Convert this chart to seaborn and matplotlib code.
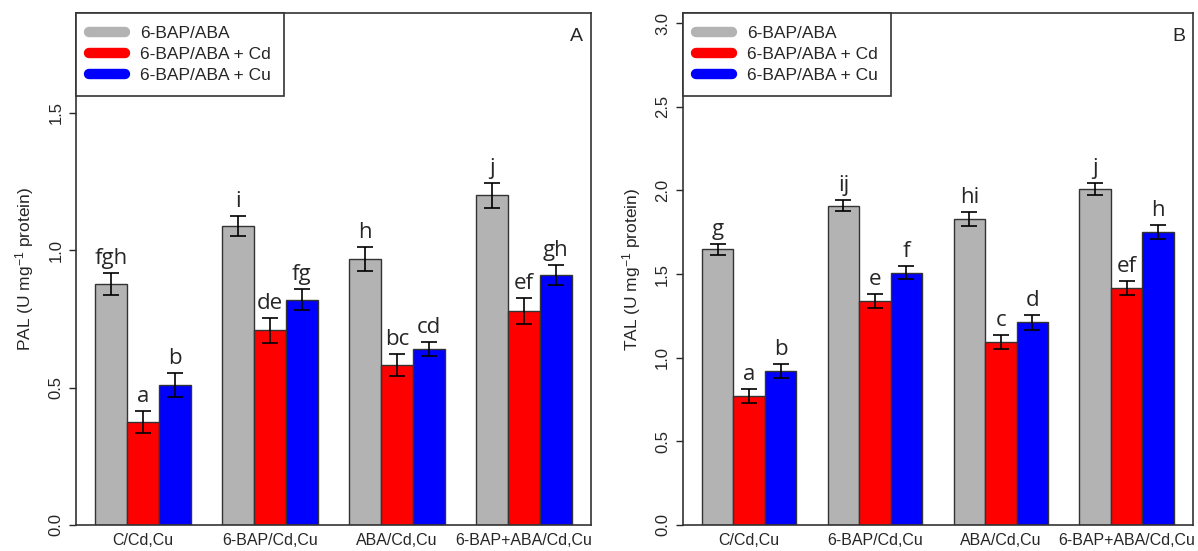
import pandas as pd
import seaborn as sns
import matplotlib.pyplot as plt
from matplotlib.lines import Line2D

# groups on the x axis and the three treatments
groups = ['C/Cd,Cu', '6-BAP/Cd,Cu', 'ABA/Cd,Cu', '6-BAP+ABA/Cd,Cu']
treatments = ['6-BAP/ABA', '6-BAP/ABA + Cd', '6-BAP/ABA + Cu']
colors = ['#b3b3b3', '#ff0000', '#0000ff']

# panel A - PAL
pal_ctrl = [0.877, 1.088, 0.969, 1.200]
pal_cd = [0.376, 0.709, 0.584, 0.779]
pal_cu = [0.510, 0.820, 0.641, 0.910]
pal_ctrl_err = [0.040, 0.037, 0.043, 0.045]
pal_cd_err = [0.040, 0.046, 0.040, 0.046]
pal_cu_err = [0.045, 0.038, 0.024, 0.036]
pal_ctrl_lab = ['fgh', 'i', 'h', 'j']
pal_cd_lab = ['a', 'de', 'bc', 'ef']
pal_cu_lab = ['b', 'fg', 'cd', 'gh']

# panel B - TAL
tal_ctrl = [1.648, 1.909, 1.829, 2.007]
tal_cd = [0.771, 1.339, 1.094, 1.418]
tal_cu = [0.920, 1.508, 1.212, 1.750]
tal_ctrl_err = [0.032, 0.034, 0.042, 0.036]
tal_cd_err = [0.044, 0.042, 0.042, 0.042]
tal_cu_err = [0.040, 0.040, 0.044, 0.042]
tal_ctrl_lab = ['g', 'ij', 'hi', 'j']
tal_cd_lab = ['a', 'e', 'c', 'ef']
tal_cu_lab = ['b', 'f', 'd', 'h']

sns.set_style('ticks')
plt.rcParams['font.family'] = ['Liberation Sans', 'DejaVu Sans']
plt.rcParams['mathtext.fontset'] = 'custom'
plt.rcParams['mathtext.rm'] = 'Liberation Sans'
plt.rcParams['mathtext.it'] = 'Liberation Sans:italic'


def draw_panel(ax, means, errs, labs, ylabel, ymax, yticks, tag):
    rows = []
    for t, m in zip(treatments, means):
        for g, v in zip(groups, m):
            rows.append({'group': g, 'treatment': t, 'value': v})
    df = pd.DataFrame(rows)
    sns.barplot(data=df, x='group', y='value', hue='treatment', order=groups,
                hue_order=treatments, palette=colors, errorbar=None, width=0.75,
                gap=0, edgecolor='#333333', linewidth=1.0, saturation=1,
                legend=False, ax=ax)
    for cont, m, e, lab in zip(ax.containers, means, errs, labs):
        xs = [b.get_x() + b.get_width() / 2 for b in cont]
        ax.errorbar(xs, m, yerr=e, fmt='none', ecolor='black', elinewidth=1.2,
                    capsize=5.5, capthick=1.2, zorder=5)
        for x, v, ee, s in zip(xs, m, e, lab):
            ax.annotate(s, (x, v + ee), xytext=(0, 6.5), textcoords='offset points',
                        ha='center', va='baseline', fontsize=16,
                        family=['Open Sans', 'DejaVu Sans'])
    ax.set_xlim(-0.527, 3.527)
    ax.set_ylim(0, ymax)
    ax.set_yticks(yticks)
    ax.set_yticklabels([f'{t:.1f}' for t in yticks], rotation=90, va='center')
    ax.tick_params(axis='y', length=5, width=1, pad=4, labelsize=12)
    ax.tick_params(axis='x', length=0, pad=6, labelsize=11.5)
    ax.set_xlabel('')
    ax.set_ylabel(ylabel, fontsize=12.5, labelpad=9)
    for sp in ax.spines.values():
        sp.set_visible(True)
        sp.set_color('#333333')
        sp.set_linewidth(1.2)
    handles = [Line2D([0], [0], color=c, lw=7.5, solid_capstyle='round') for c in colors]
    leg = ax.legend(handles, treatments, loc='upper left', borderaxespad=0,
                    fancybox=False, frameon=True, edgecolor='#333333',
                    handlelength=2.1, handletextpad=0.85, labelspacing=0.33,
                    borderpad=0.75, fontsize=12.5)
    leg.get_frame().set_linewidth(1.2)
    leg.get_frame().set_alpha(1)
    ax.text(0.985, 0.955, tag, transform=ax.transAxes, ha='right', va='center',
            fontsize=14)


fig = plt.figure(figsize=(11.98, 5.51), dpi=100)
ax1 = fig.add_axes([0.0634, 0.0472, 0.4299, 0.9292])
ax2 = fig.add_axes([0.5699, 0.0472, 0.4259, 0.9292])

draw_panel(ax1, [pal_ctrl, pal_cd, pal_cu], [pal_ctrl_err, pal_cd_err, pal_cu_err],
           [pal_ctrl_lab, pal_cd_lab, pal_cu_lab], 'PAL (U mg$^{-1}$ protein)',
           1.864, [0.0, 0.5, 1.0, 1.5], 'A')
draw_panel(ax2, [tal_ctrl, tal_cd, tal_cu], [tal_ctrl_err, tal_cd_err, tal_cu_err],
           [tal_ctrl_lab, tal_cd_lab, tal_cu_lab], 'TAL (U mg$^{-1}$ protein)',
           3.06, [0.0, 0.5, 1.0, 1.5, 2.0, 2.5, 3.0], 'B')

fig.savefig('out.png', dpi=100)
